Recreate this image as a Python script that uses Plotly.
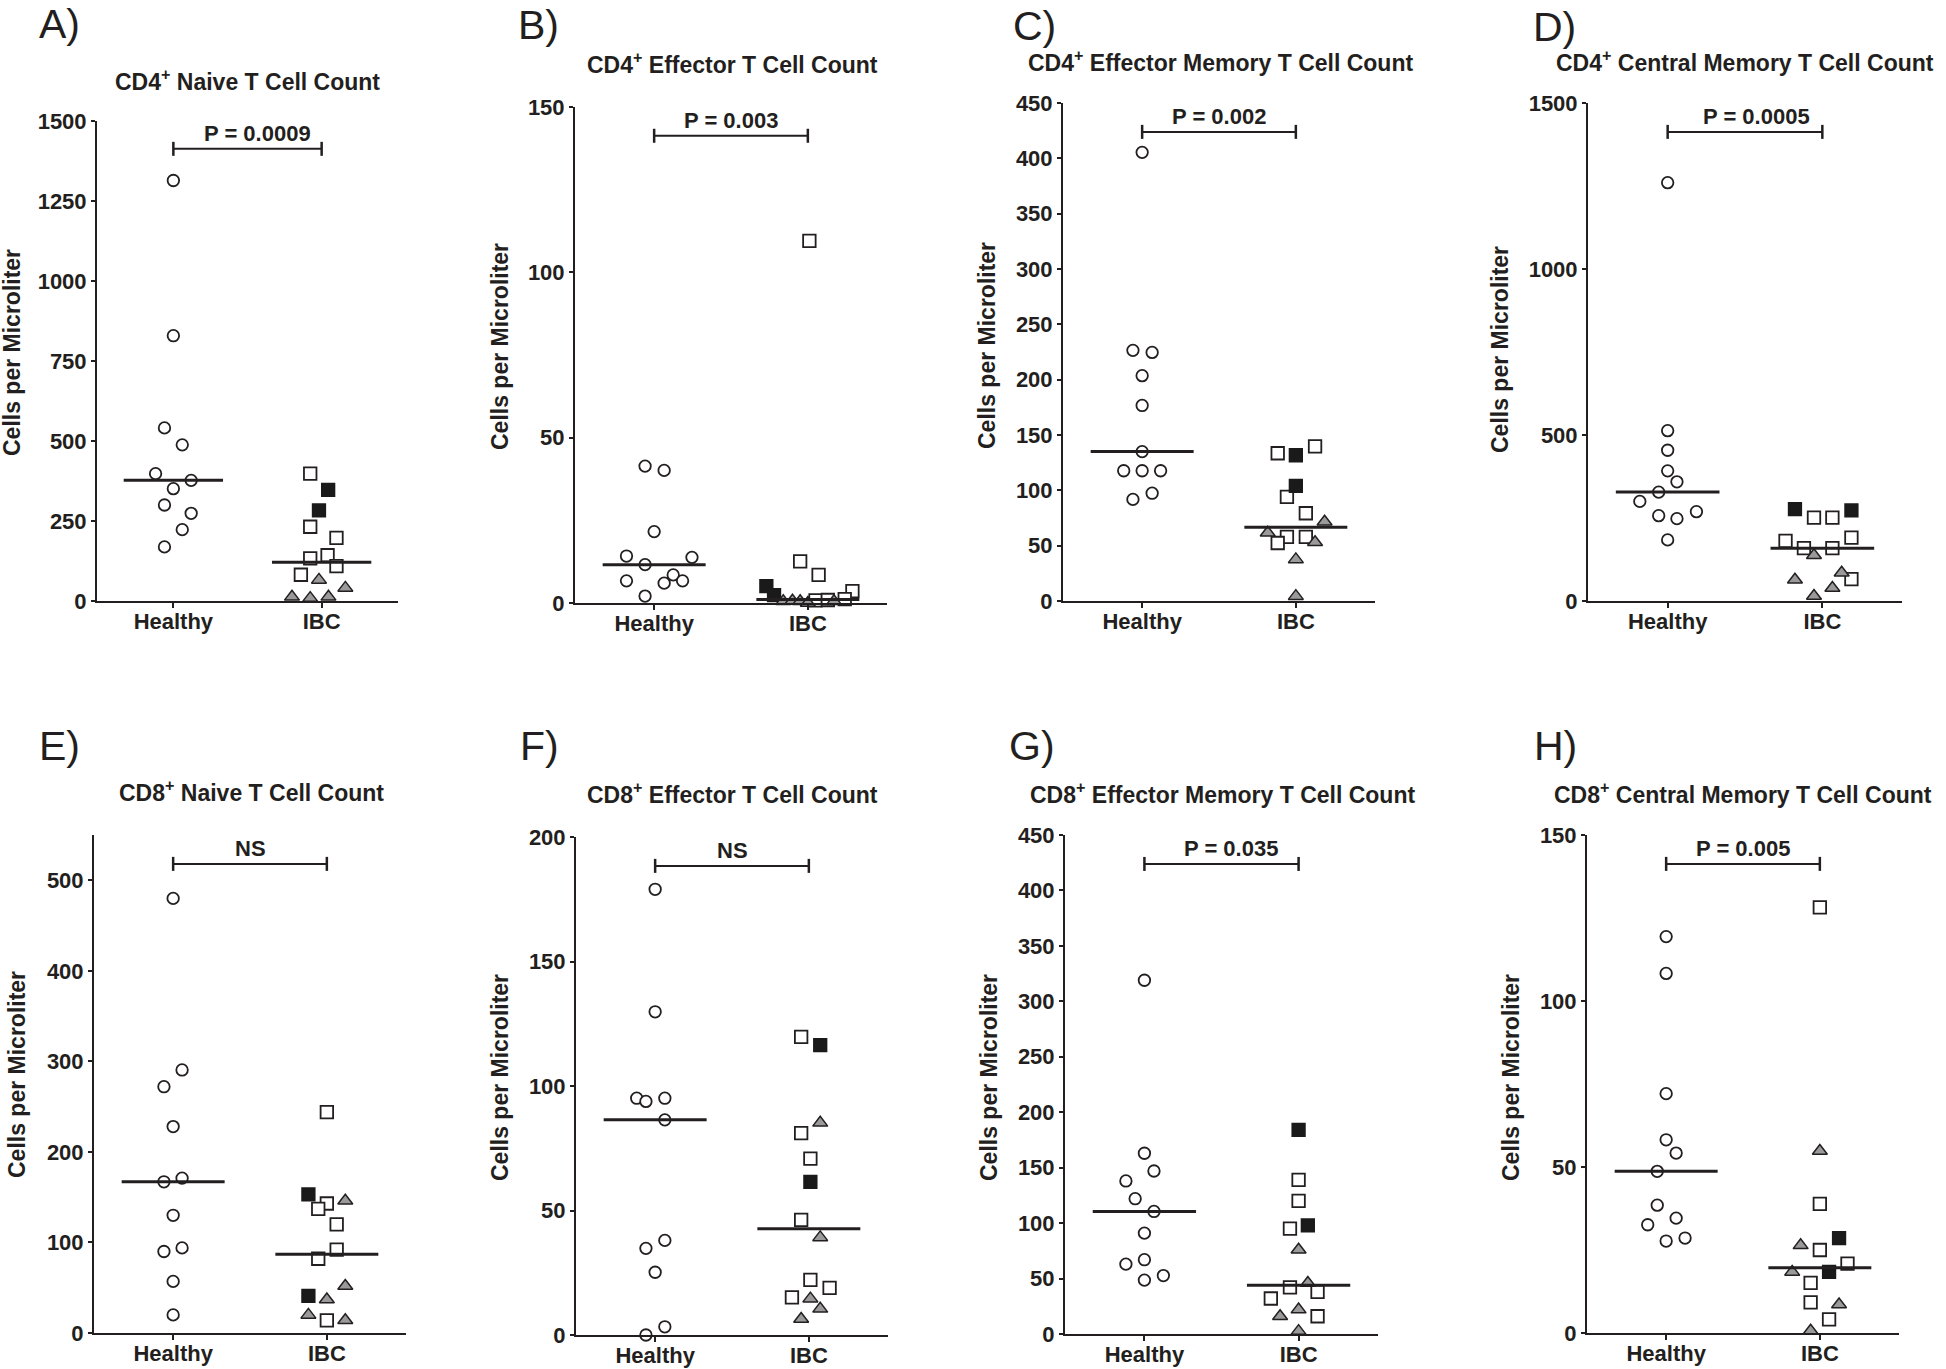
import numpy as np
import plotly.graph_objects as go

W, H = 1946, 1369

groups = ["Healthy", "IBC"]
letters = ["A)", "B)", "C)", "D)", "E)", "F)", "G)", "H)"]
titles = [
    "CD4<sup>+</sup> Naive T Cell Count",
    "CD4<sup>+</sup> Effector T Cell Count",
    "CD4<sup>+</sup> Effector Memory T Cell Count",
    "CD4<sup>+</sup> Central Memory T Cell Count",
    "CD8<sup>+</sup> Naive T Cell Count",
    "CD8<sup>+</sup> Effector T Cell Count",
    "CD8<sup>+</sup> Effector Memory T Cell Count",
    "CD8<sup>+</sup> Central Memory T Cell Count",
]
pvals = ["P = 0.0009", "P = 0.003", "P = 0.002", "P = 0.0005", "NS", "NS", "P = 0.035", "P = 0.005"]
ytitle = "Cells per Microliter"
ymax = [1500, 150, 450, 1500, 550, 200, 450, 150]
yticks = [
    [0, 250, 500, 750, 1000, 1250, 1500],
    [0, 50, 100, 150],
    [0, 50, 100, 150, 200, 250, 300, 350, 400, 450],
    [0, 500, 1000, 1500],
    [0, 100, 200, 300, 400, 500],
    [0, 50, 100, 150, 200],
    [0, 50, 100, 150, 200, 250, 300, 350, 400, 450],
    [0, 50, 100, 150],
]

# ---- data (o = open square, f = filled square, t = triangle) ----
A_healthy = [1314, 829, 541, 488, 398, 377, 351, 300, 274, 223, 169]
A_healthy_dx = [0, 0, -0.06, 0.06, -0.12, 0.12, 0, -0.06, 0.12, 0.06, -0.06]
A_ibc = [398, 347, 283, 232, 197, 143, 133, 109, 82, 66, 41, 13, 9, 13]
A_ibc_type = ["o", "f", "f", "o", "o", "o", "o", "o", "o", "t", "t", "t", "t", "t"]
A_ibc_dx = [-0.077, 0.044, -0.018, -0.077, 0.1, 0.04, -0.077, 0.1, -0.14, -0.018, 0.16, -0.2, -0.077, 0.046]

B_healthy = [41.4, 40.1, 21.6, 14.2, 13.8, 11.6, 6.7, 8.5, 6.0, 6.7, 2.1]
B_healthy_dx = [-0.059, 0.065, 0, -0.18, 0.246, -0.059, -0.18, 0.124, 0.065, 0.185, -0.059]
B_ibc = [109.5, 12.6, 8.5, 3.6, 5.1, 2.4, 0.5, 0.7, 0.5, 0.0, 0.5, 0.8, 0.9, 1.2]
B_ibc_type = ["o", "o", "o", "o", "f", "f", "t", "t", "t", "t", "t", "o", "o", "o"]
B_ibc_dx = [0.01, -0.05, 0.07, 0.29, -0.27, -0.22, -0.16, -0.10, -0.05, 0.0, 0.17, 0.05, 0.13, 0.24]

C_healthy = [405.4, 226.5, 224.6, 203.6, 176.7, 135, 117.7, 117.7, 117.7, 97.4, 91.8]
C_healthy_dx = [0, -0.06, 0.065, 0, 0, 0, -0.12, 0, 0.12, 0.065, -0.06]
C_ibc = [139.8, 133.5, 131.7, 104, 94, 79.3, 71.6, 61.6, 57.9, 57.9, 52.4, 53.1, 37.6, 4.4]
C_ibc_type = ["o", "o", "f", "f", "o", "o", "t", "t", "o", "o", "o", "t", "t", "t"]
C_ibc_dx = [0.125, -0.118, 0, 0, -0.058, 0.065, 0.187, -0.183, -0.058, 0.065, -0.118, 0.125, 0, 0]

D_healthy = [1260, 513, 454, 392, 359, 328, 300, 269, 257, 248, 184]
D_healthy_dx = [0, 0, 0, 0, 0.06, -0.058, -0.18, 0.186, -0.058, 0.06, 0]
D_ibc = [277, 251, 251, 273, 181, 191, 159, 159, 138, 85, 66, 64, 39, 15]
D_ibc_type = ["f", "o", "o", "f", "o", "o", "o", "o", "t", "t", "o", "t", "t", "t"]
D_ibc_dx = [-0.177, -0.054, 0.065, 0.188, -0.238, 0.188, -0.119, 0.065, -0.054, 0.125, 0.188, -0.177, 0.065, -0.054]

E_healthy = [480, 290.5, 272, 228, 171, 167, 130, 94, 90, 57, 20]
E_healthy_dx = [0, 0.058, -0.06, 0, 0.058, -0.06, 0, 0.058, -0.06, 0, 0]
E_ibc = [244, 153, 146, 143, 137, 120, 92, 82, 52, 41, 37, 20, 14, 14]
E_ibc_type = ["o", "f", "t", "o", "o", "o", "o", "o", "t", "f", "t", "t", "o", "t"]
E_ibc_dx = [0, -0.12, 0.12, 0, -0.056, 0.064, 0.064, -0.056, 0.12, -0.12, 0, -0.12, 0, 0.12]

F_healthy = [179, 129.8, 95.1, 93.8, 95.1, 86.4, 38, 34.8, 25.2, 3.3, 0]
F_healthy_dx = [0, 0, -0.12, -0.06, 0.063, 0.063, 0.063, -0.06, 0, 0.063, -0.06]
F_ibc = [119.7, 116.4, 85.2, 81.1, 70.8, 61.5, 46.2, 39.2, 22.1, 18.9, 15.1, 14.6, 10.5, 6.4]
F_ibc_type = ["o", "f", "t", "o", "o", "f", "o", "t", "o", "o", "o", "t", "t", "t"]
F_ibc_dx = [-0.05, 0.074, 0.074, -0.05, 0.01, 0.01, -0.05, 0.074, 0.01, 0.135, -0.11, 0.01, 0.074, -0.05]

G_healthy = [319, 163, 147, 138, 122, 110.5, 91, 63, 67, 52.7, 48.6]
G_healthy_dx = [0, 0, 0.062, -0.12, -0.06, 0.062, 0, -0.12, 0, 0.123, 0]
G_ibc = [184, 139, 120, 98, 95, 76, 46, 42, 38, 32, 22, 16, 16, 2.6]
G_ibc_type = ["f", "o", "o", "f", "o", "t", "t", "o", "o", "o", "t", "t", "o", "t"]
G_ibc_dx = [0, 0, 0, 0.06, -0.056, 0, 0.06, -0.056, 0.123, -0.18, 0, -0.12, 0.123, 0]

H_healthy = [119.4, 108.3, 72.1, 58.2, 54.2, 48.7, 38.5, 34.6, 32.6, 28.6, 27.7]
H_healthy_dx = [0, 0, 0, 0, 0.065, -0.058, -0.058, 0.065, -0.12, 0.123, 0]
H_ibc = [128.2, 54.8, 38.9, 28.6, 26.4, 25, 20.9, 18.4, 18.4, 15.1, 9.2, 8.6, 4.1, 0.7]
H_ibc_type = ["o", "t", "o", "f", "t", "o", "o", "f", "t", "o", "o", "t", "o", "t"]
H_ibc_dx = [0, 0, 0, 0.125, -0.125, 0, 0.18, 0.06, -0.18, -0.06, -0.06, 0.125, 0.06, -0.06]

panels = [
    (A_healthy, A_healthy_dx, A_ibc, A_ibc_type, A_ibc_dx),
    (B_healthy, B_healthy_dx, B_ibc, B_ibc_type, B_ibc_dx),
    (C_healthy, C_healthy_dx, C_ibc, C_ibc_type, C_ibc_dx),
    (D_healthy, D_healthy_dx, D_ibc, D_ibc_type, D_ibc_dx),
    (E_healthy, E_healthy_dx, E_ibc, E_ibc_type, E_ibc_dx),
    (F_healthy, F_healthy_dx, F_ibc, F_ibc_type, F_ibc_dx),
    (G_healthy, G_healthy_dx, G_ibc, G_ibc_type, G_ibc_dx),
    (H_healthy, H_healthy_dx, H_ibc, H_ibc_type, H_ibc_dx),
]

# ---- layout geometry (pixels) ----
boxes = [(97, 398, 121, 601), (575, 887, 107, 603), (1063, 1375, 103, 601), (1588, 1902, 103, 601),
         (94, 406, 835, 1333), (576, 888, 837, 1335), (1065, 1378, 835, 1334), (1587, 1899, 835, 1333)]
# (left x, top y) of the panel letter boxes
letter_pos = [(38, 0), (517, 1), (1012, 2), (1532, 3), (38, 722), (519, 722), (1008, 722), (1533, 722)]
title_pos = [(247, 80), (732, 63), (1220, 61), (1745, 61), (251, 791), (732, 793), (1222, 793), (1743, 793)]
ytitle_pos = [(12, 353), (500, 347), (987, 345), (1500, 350), (17, 1075), (500, 1078), (989, 1078), (1511, 1078)]
p_xshift = [10, 0, 0, 11, 0, 0, 9, 0]
BAR_FRAC = 0.942
XR = [0.485, 2.515]
HALF = 0.335

INK = "#231f20"
FONT = "Liberation Sans, Arial, sans-serif"

styles = {
    "o": dict(symbol="square", size=12.5, color="white", line=dict(color=INK, width=1.8)),
    "f": dict(symbol="square", size=12.5, color="#1a1a1a", line=dict(color="#1a1a1a", width=1.8)),
    "t": dict(symbol="triangle-up", size=13, color="#9a9a9a", line=dict(color=INK, width=1.5)),
}
circle_style = dict(symbol="circle", size=11.5, color="white", line=dict(color=INK, width=1.8))

fig = go.Figure()
layout = dict(width=W, height=H, margin=dict(l=0, r=0, t=0, b=0, pad=0, autoexpand=False),
              paper_bgcolor="white", plot_bgcolor="white", showlegend=False,
              font=dict(family=FONT, color=INK))
annotations = []
shapes = []

for k, (hv, hdx, iv, itype, idx) in enumerate(panels):
    sfx = "" if k == 0 else str(k + 1)
    xa, ya = "x" + sfx, "y" + sfx
    x0, x1, y0, y1 = boxes[k]
    layout["xaxis" + sfx] = dict(
        domain=[x0 / W, x1 / W], anchor=ya, range=XR, tickvals=[1, 2], ticktext=groups,
        showline=True, linewidth=2, linecolor=INK, ticks="outside", ticklen=5, tickwidth=2,
        tickcolor=INK, showgrid=False, zeroline=False, fixedrange=True, automargin=False,
        ticklabelstandoff=-5,
        tickfont=dict(family=FONT, size=22, color=INK, weight="bold"))
    layout["yaxis" + sfx] = dict(
        domain=[1 - y1 / H, 1 - y0 / H], anchor=xa, range=[0, ymax[k]], tickvals=yticks[k],
        showline=True, linewidth=2, linecolor=INK, ticks="outside", ticklen=4, tickwidth=2,
        tickcolor=INK, showgrid=False, zeroline=False, fixedrange=True, automargin=False,
        tickfont=dict(family=FONT, size=22, color=INK, weight="bold"))

    # healthy circles
    fig.add_trace(go.Scatter(x=[1 + d for d in hdx], y=hv, mode="markers", marker=circle_style,
                             xaxis=xa, yaxis=ya, cliponaxis=False))
    # IBC markers by subgroup
    for t in ["o", "f", "t"]:
        xs = [2 + d for d, tt in zip(idx, itype) if tt == t]
        ys = [v for v, tt in zip(iv, itype) if tt == t]
        fig.add_trace(go.Scatter(x=xs, y=ys, mode="markers", marker=styles[t],
                                 xaxis=xa, yaxis=ya, cliponaxis=False))
    # medians
    for c, vals in [(1, hv), (2, iv)]:
        m = float(np.median(vals))
        fig.add_trace(go.Scatter(x=[c - HALF, c + HALF], y=[m, m], mode="lines",
                                 line=dict(color=INK, width=3), xaxis=xa, yaxis=ya,
                                 cliponaxis=False, hoverinfo="skip"))

    # significance bar
    L = BAR_FRAC * ymax[k]
    shapes.append(dict(type="line", xref=xa, yref=ya, x0=1, x1=2, y0=L, y1=L,
                       line=dict(color=INK, width=2)))
    for c in (1, 2):
        shapes.append(dict(type="line", xref=xa, yref=ya, x0=c, x1=c, ysizemode="pixel",
                           yanchor=L, y0=-7, y1=7, line=dict(color=INK, width=2.5)))
    annotations.append(dict(x=1.5, y=L, xref=xa, yref=ya, text=pvals[k], showarrow=False,
                            xanchor="center", yanchor="middle", yshift=15, xshift=p_xshift[k],
                            font=dict(family=FONT, size=22, color=INK, weight="bold")))

    # panel letter
    lx, ly = letter_pos[k]
    annotations.append(dict(x=lx / W, y=1 - ly / H, xref="paper", yref="paper", text=letters[k],
                            showarrow=False, xanchor="left", yanchor="top", borderpad=0,
                            font=dict(family=FONT, size=41, color=INK)))
    # panel title
    tx, ty = title_pos[k]
    annotations.append(dict(x=tx / W, y=1 - ty / H, xref="paper", yref="paper", text=titles[k],
                            showarrow=False, xanchor="center", yanchor="middle",
                            font=dict(family=FONT, size=23, color=INK, weight="bold")))
    # y axis title
    yx, yy = ytitle_pos[k]
    annotations.append(dict(x=yx / W, y=1 - yy / H, xref="paper", yref="paper", text=ytitle,
                            showarrow=False, xanchor="center", yanchor="middle", textangle=-90,
                            font=dict(family=FONT, size=23, color=INK, weight="bold")))

layout["annotations"] = annotations
layout["shapes"] = shapes
fig.update_layout(**layout)
fig.write_html(
    "out.html",
    config={"displayModeBar": False, "staticPlot": True},
    post_script=("document.documentElement.style.margin='0';"
                 "document.body.style.margin='0';document.body.style.padding='0';"
                 "document.body.style.overflow='hidden';"),
)
